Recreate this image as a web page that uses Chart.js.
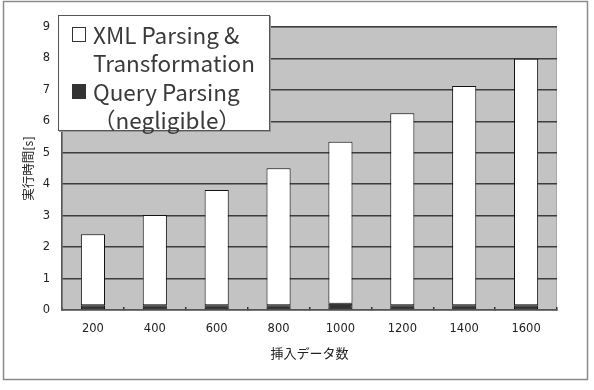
<!DOCTYPE html>
<html>
<head>
<meta charset="utf-8">
<script src="https://cdn.jsdelivr.net/npm/chart.js@4/dist/chart.umd.min.js"></script>
<style>
html,body{margin:0;padding:0;background:#fff;}
#wrap{position:relative;width:594px;height:390px;}
canvas{display:block;}
</style>
</head>
<body>
<div id="wrap"><canvas id="c" width="594" height="390"></canvas></div>
<script>
// ---- data ----
const categories = ['200', '400', '600', '800', '1000', '1200', '1400', '1600'];
const queryParsing = [0.15, 0.15, 0.15, 0.15, 0.2, 0.15, 0.15, 0.15];
const xmlParsing = [2.26, 2.87, 3.67, 4.36, 5.15, 6.11, 6.97, 7.84];
const seriesNames = [['XML Parsing &', 'Transformation'], ['Query Parsing', '（negligible）']];
const yTitle = '実行時間[s]';
const xTitle = '挿入データ数';
const yTicks = [0, 1, 2, 3, 4, 5, 6, 7, 8, 9];

const FONT = '"Noto Sans CJK JP", "Noto Sans", sans-serif';
const TICKFONT = '"DejaVu Sans", sans-serif';

const bgPlugin = {
  id: 'bg',
  beforeDraw(chart) {
    const ctx = chart.ctx, a = chart.chartArea;
    ctx.save();
    // outer frame
    ctx.strokeStyle = '#8a8a8a';
    ctx.lineWidth = 1.5;
    ctx.strokeRect(3.5, 1.5, 584, 378);
    // plot background
    ctx.fillStyle = '#c3c3c3';
    ctx.fillRect(a.left, a.top, a.right - a.left, a.bottom - a.top);
    ctx.strokeStyle = '#a8a8a8';
    ctx.lineWidth = 1;
    ctx.strokeRect(a.left + 0.5, a.top + 0.5, a.right - a.left - 1, a.bottom - a.top - 1);
    ctx.restore();
  }
};

const legendPlugin = {
  id: 'customLegend',
  afterDraw(chart) {
    const ctx = chart.ctx;
    const x0 = 58, y0 = 15, w = 212, h = 116;
    ctx.save();
    ctx.fillStyle = '#9a9a9a';
    ctx.fillRect(x0 + 1, y0 + 1, w, h);
    ctx.fillStyle = '#ffffff';
    ctx.fillRect(x0, y0, w, h);
    ctx.strokeStyle = '#555';
    ctx.lineWidth = 1;
    ctx.strokeRect(x0 + 0.5, y0 + 0.5, w - 1, h - 1);
    const ds = chart.data.datasets;
    const order = [1, 0];
    const lineH = 28.5;
    let y = 34;
    ctx.font = '22.5px ' + FONT;
    ctx.textBaseline = 'middle';
    ctx.textAlign = 'left';
    order.forEach((i) => {
      const d = ds[i];
      ctx.fillStyle = d.backgroundColor;
      ctx.fillRect(72, y - 7, 14, 15);
      ctx.strokeStyle = '#333';
      ctx.lineWidth = 1;
      ctx.strokeRect(72.5, y - 6.5, 13, 14);
      ctx.fillStyle = '#3a3a3a';
      const lines = d.legendLines;
      lines.forEach((t, k) => {
        ctx.fillText(t, 93, y + 1 + k * lineH);
      });
      y += lineH * lines.length;
    });
    ctx.restore();
  }
};

new Chart(document.getElementById('c'), {
  type: 'bar',
  data: {
    labels: categories,
    datasets: [
      {
        label: seriesNames[1].join(' '),
        legendLines: seriesNames[1],
        data: queryParsing,
        backgroundColor: '#333333',
        borderColor: '#111111',
        borderWidth: 1,
        borderSkipped: false,
        barPercentage: 0.39,
        categoryPercentage: 1
      },
      {
        label: seriesNames[0].join(' '),
        legendLines: seriesNames[0],
        data: xmlParsing,
        backgroundColor: '#ffffff',
        borderColor: '#111111',
        borderWidth: 1,
        borderSkipped: false,
        barPercentage: 0.39,
        categoryPercentage: 1
      }
    ]
  },
  options: {
    responsive: false,
    animation: false,
    devicePixelRatio: 1,
    layout: { padding: { top: 27, right: 37, left: 0, bottom: 0 } },
    plugins: {
      legend: { display: false },
      tooltip: { enabled: false }
    },
    scales: {
      x: {
        stacked: true,
        afterFit(s) { s.height = 80; },
        grid: { display: true, drawOnChartArea: false, drawTicks: true, tickLength: -3, color: '#333', lineWidth: 1.5 },
        border: { display: true, color: '#555', width: 1.5 },
        ticks: { padding: 15, color: '#222', font: { family: TICKFONT, size: 11.5 }, maxRotation: 0 },
        title: { display: true, text: xTitle, color: '#222', padding: { top: 0, bottom: 29 }, font: { family: FONT, size: 13 } }
      },
      y: {
        stacked: true,
        min: 0,
        max: 9,
        afterFit(s) { s.width = 62; },
        afterBuildTicks(s) { s.ticks = yTicks.map(v => ({ value: v })); },
        grid: { color: '#3c3c3c', lineWidth: 1.5, drawTicks: false },
        border: { display: true, color: '#555', width: 1.5 },
        ticks: { padding: 12, color: '#222', font: { family: TICKFONT, size: 11.5 } },
        title: { display: true, text: yTitle, color: '#222', padding: { top: 21, bottom: 0 }, font: { family: FONT, size: 12.5 } }
      }
    }
  },
  plugins: [bgPlugin, legendPlugin]
});
</script>
</body>
</html>
